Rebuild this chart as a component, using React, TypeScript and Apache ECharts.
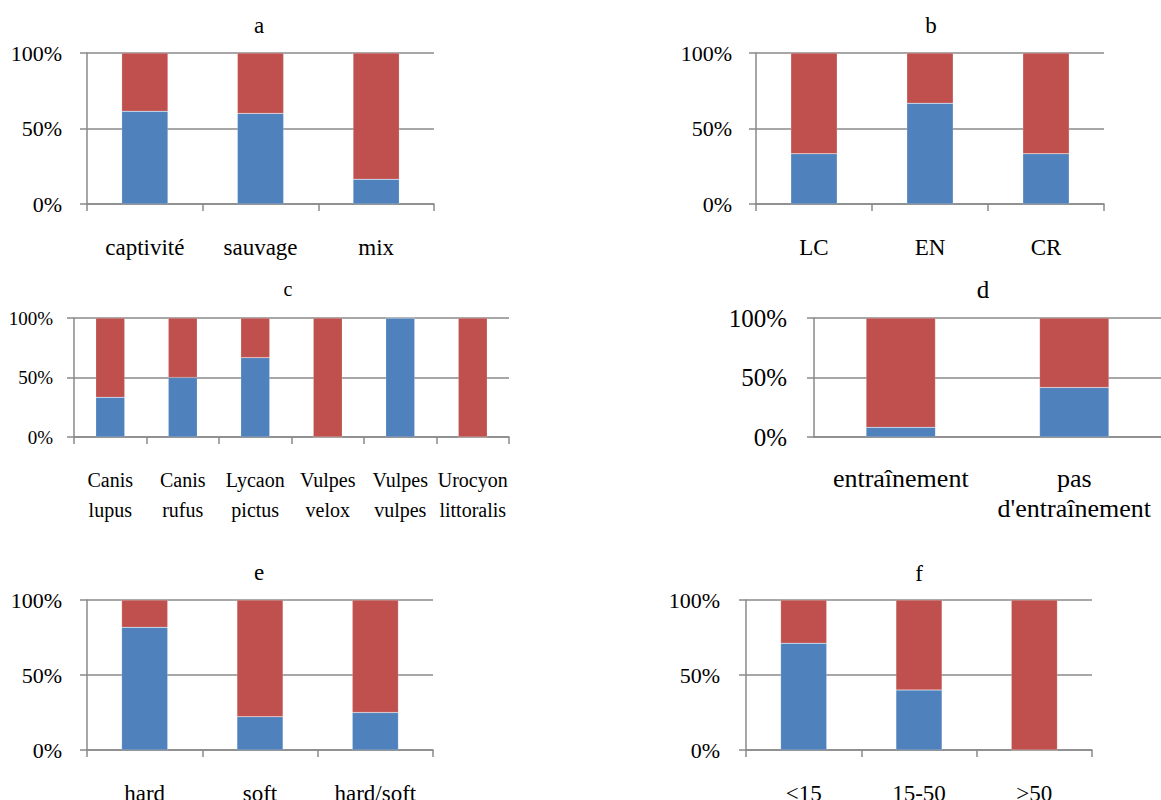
import React, { useEffect, useRef } from "react";
import * as echarts from "echarts";

// ---- data ----
const catsA = ["captivité", "sauvage", "mix"];
const blueA = [61.4, 60, 16.4];
const redA = [38.6, 40, 83.6];

const catsB = ["LC", "EN", "CR"];
const blueB = [33.3, 66.7, 33.3];
const redB = [66.7, 33.3, 66.7];

const catsC = ["Canis\nlupus", "Canis\nrufus", "Lycaon\npictus", "Vulpes\nvelox", "Vulpes\nvulpes", "Urocyon\nlittoralis"];
const blueC = [33.3, 50, 66.7, 0, 100, 0];
const redC = [66.7, 50, 33.3, 100, 0, 100];

const catsD = ["entraînement", "pas\nd'entraînement"];
const blueD = [8.1, 41.6];
const redD = [91.9, 58.4];

const catsE = ["hard", "soft", "hard/soft"];
const blueE = [81.8, 22.2, 25];
const redE = [18.2, 77.8, 75];

const catsF = ["<15", "15-50", ">50"];
const blueF = [71.2, 40, 0];
const redF = [28.8, 60, 100];

const yTicks = [0, 50, 100];
const titles = ["a", "b", "c", "d", "e", "f"];

// ---- layout ----
const layout = [
  { cats: catsA, blue: blueA, red: redA, grid: { left: 87, top: 53, width: 347, height: 151 }, xFont: 23, yFont: 22, yMargin: 25, xMargin: 28, lh: 30, tick: true, tx: 259, ty: 25, tf: 23 },
  { cats: catsB, blue: blueB, red: redB, grid: { left: 756, top: 53, width: 348, height: 151 }, xFont: 23, yFont: 22, yMargin: 24, xMargin: 28, lh: 30, tick: true, tx: 931, ty: 25, tf: 23 },
  { cats: catsC, blue: blueC, red: redC, grid: { left: 74, top: 318, width: 435, height: 119 }, xFont: 20, yFont: 19, yMargin: 21, xMargin: 28, lh: 30, tick: true, tx: 288, ty: 289, tf: 20 },
  { cats: catsD, blue: blueD, red: redD, grid: { left: 814, top: 318, width: 347, height: 119 }, xFont: 26, yFont: 25, yMargin: 27, xMargin: 26, lh: 30, tick: false, tx: 983, ty: 289, tf: 25 },
  { cats: catsE, blue: blueE, red: redE, grid: { left: 87, top: 600, width: 346, height: 150 }, xFont: 23, yFont: 22, yMargin: 25, xMargin: 28, lh: 30, tick: true, tx: 259, ty: 572, tf: 23 },
  { cats: catsF, blue: blueF, red: redF, grid: { left: 746, top: 600, width: 346, height: 150 }, xFont: 23, yFont: 22, yMargin: 26, xMargin: 28, lh: 30, tick: true, tx: 919, ty: 573, tf: 23 },
];

const FONT = "Liberation Serif";
const AXIS = "#8a8a8a";
const BLUE = "#4F81BD";
const RED = "#C0504D";

export default function App() {
  const ref = useRef<HTMLDivElement>(null);
  useEffect(() => {
    if (!ref.current) return;
    const chart = echarts.init(ref.current, null, { renderer: "svg" });
    const grid: any[] = [];
    const xAxis: any[] = [];
    const yAxis: any[] = [];
    const series: any[] = [];
    const graphic: any[] = [];
    layout.forEach((p, i) => {
      grid.push({ ...p.grid, containLabel: false, outerBoundsMode: "none" });
      xAxis.push({
        type: "category",
        gridIndex: i,
        data: p.cats,
        axisLine: { show: true, lineStyle: { color: AXIS, width: 1.5 } },
        axisTick: { show: p.tick, interval: 0, length: 7, lineStyle: { color: AXIS, width: 1.5 } },
        axisLabel: {
          interval: 0,
          margin: p.xMargin,
          fontFamily: FONT,
          fontSize: p.xFont,
          color: "#000",
          lineHeight: p.lh,
          hideOverlap: false,
        },
        splitLine: { show: false },
      });
      yAxis.push({
        type: "value",
        gridIndex: i,
        min: yTicks[0],
        max: yTicks[yTicks.length - 1],
        interval: 50,
        axisLine: { show: true, lineStyle: { color: AXIS, width: 1.5 } },
        axisTick: { show: true, length: 7, lineStyle: { color: AXIS, width: 1.5 } },
        axisLabel: {
          margin: p.yMargin,
          fontFamily: FONT,
          fontSize: p.yFont,
          color: "#000",
          formatter: "{value}%",
        },
        splitLine: { show: true, lineStyle: { color: AXIS, width: 1.5 } },
      });
      series.push({
        type: "bar",
        name: "blue" + i,
        xAxisIndex: i,
        yAxisIndex: i,
        stack: "s" + i,
        data: p.blue,
        barWidth: "40%",
        itemStyle: { color: BLUE, borderColor: "rgba(255,255,255,0.35)", borderWidth: 0.5 },
        z: 3,
      });
      series.push({
        type: "bar",
        name: "red" + i,
        xAxisIndex: i,
        yAxisIndex: i,
        stack: "s" + i,
        data: p.red,
        barWidth: "40%",
        itemStyle: { color: RED, borderColor: "rgba(255,255,255,0.35)", borderWidth: 0.5 },
        z: 3,
      });
      graphic.push({
        type: "text",
        x: p.tx,
        y: p.ty,
        style: {
          text: titles[i],
          fontFamily: FONT,
          fontSize: p.tf,
          fill: "#000",
          textAlign: "center",
          textVerticalAlign: "middle",
        },
      });
    });
    chart.setOption({
      animation: false,
      backgroundColor: "#fff",
      textStyle: { fontFamily: FONT },
      grid,
      xAxis,
      yAxis,
      series,
      graphic,
    });
    return () => chart.dispose();
  }, []);
  return (
    <div
      ref={ref}
      style={{ position: "fixed", left: 0, top: 0, width: 1161, height: 800, background: "#fff" }}
    />
  );
}
